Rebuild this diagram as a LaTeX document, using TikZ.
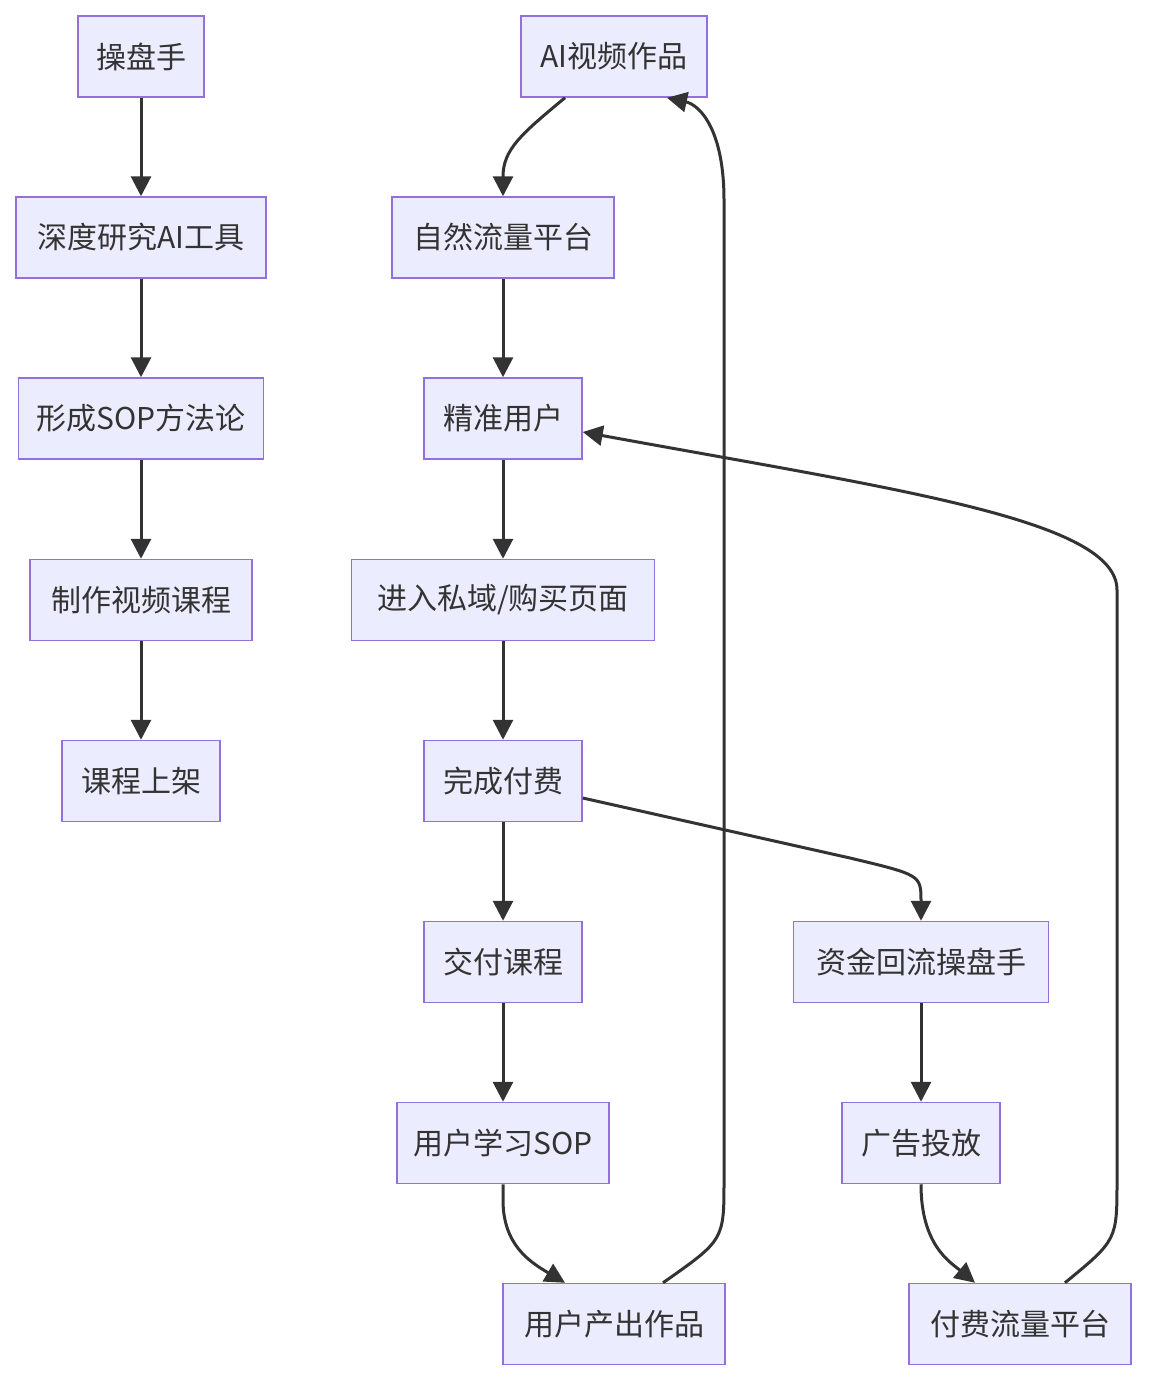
\documentclass[tikz,border=0pt]{standalone}
\usepackage{fontspec}
\setmainfont{Noto Sans CJK SC}
\usetikzlibrary{arrows.meta,calc}
\definecolor{boxfill}{HTML}{ECECFF}
\definecolor{boxline}{HTML}{9370DB}
\definecolor{ink}{HTML}{333333}
\begin{document}
\begin{tikzpicture}[x=0.5pt,y=-0.5pt,
	box/.style={rectangle, draw=boxline, fill=boxfill, line width=0.75pt, minimum height=40.5pt, inner sep=0pt, text=ink, font=\fontsize{15}{18}\selectfont},
	flow/.style={draw=ink, line width=1.5pt, -{Triangle[length=10pt,width=10pt]}}
]
\useasboundingbox (0,0) rectangle (1148,1382);
% left column
\node[box, minimum width=63pt] (trader) at (141,56.5) {操盘手};
\node[box, minimum width=125pt] (research) at (141,237.5) {深度研究AI工具};
\node[box, minimum width=122.5pt] (sop) at (141,418.5) {形成SOP方法论};
\node[box, minimum width=111pt] (course) at (141,600) {制作视频课程};
\node[box, minimum width=79pt] (launch) at (141,781) {课程上架};
% middle column
\node[box, minimum width=93pt] (aiwork) at (614,56.5) {AI视频作品};
\node[box, minimum width=111pt] (organic) at (503,237.5) {自然流量平台};
\node[box, minimum width=79pt] (target) at (503,418.5) {精准用户};
\node[box, minimum width=151.5pt] (private) at (503,600) {进入私域/购买页面};
\node[box, minimum width=79pt] (paid) at (503,781) {完成付费};
\node[box, minimum width=79pt] (deliver) at (503,962) {交付课程};
\node[box, minimum width=106pt] (learn) at (503,1143) {用户学习SOP};
\node[box, minimum width=111pt] (output) at (614,1324) {用户产出作品};
% right column
\node[box, minimum width=127.5pt] (refund) at (921,962) {资金回流操盘手};
\node[box, minimum width=79pt] (ads) at (921,1143) {广告投放};
\node[box, minimum width=111pt] (paidtraffic) at (1020,1324) {付费流量平台};

\draw[flow] (trader) -- (research);
\draw[flow] (research) -- (sop);
\draw[flow] (sop) -- (course);
\draw[flow] (course) -- (launch);
\draw[flow] ($(aiwork.south)+(-49,0)$) .. controls (520,135) and (503,150) .. (organic.north);
\draw[flow] (organic) -- (target);
\draw[flow] (target) -- (private);
\draw[flow] (private) -- (paid);
\draw[flow] (paid) -- (deliver);
\draw[flow] (deliver) -- (learn);
\draw[flow] (learn.south) -- (503,1200) .. controls (503,1245) and (530,1262) .. ($(output.north)+(-49,0)$);
\draw[flow] ($(output.north)+(49,0)$) .. controls (724,1240) .. (724,1180) -- (724,200) .. controls (724,130) and (700,105) .. ($(aiwork.south)+(53,0)$);
\draw[flow] ($(paid.east)+(0,17)$) -- (850,858) .. controls (921,875) .. (refund.north);
\draw[flow] (refund) -- (ads);
\draw[flow] (ads.south) .. controls (921,1245) and (950,1262) .. ($(paidtraffic.north)+(-45,0)$);
\draw[flow] ($(paidtraffic.north)+(45,0)$) .. controls (1117,1240) .. (1117,1180) -- (1117,590) .. controls (1117,520) and (900,490) .. ($(target.east)+(0,13.5)$);
\end{tikzpicture}
\end{document}
